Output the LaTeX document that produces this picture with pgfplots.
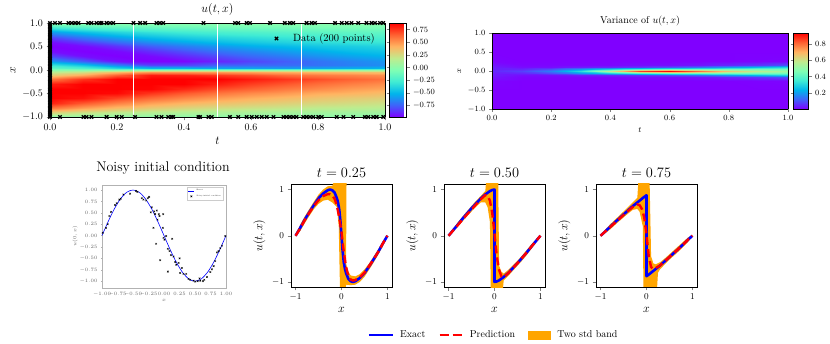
\documentclass[border=0pt]{standalone}
\usepackage{pgfplots}
\pgfplotsset{compat=1.18}
\definecolor{mplorange}{RGB}{255,165,0}
\pgfplotsset{
  colormap={mplrainbow}{rgb=(0.5,0,1) rgb=(0.25,0.383,0.981) rgb=(0,0.707,0.924)
    rgb=(0.25,0.924,0.831) rgb=(0.5,1,0.707) rgb=(0.75,0.924,0.556)
    rgb=(1,0.707,0.383) rgb=(1,0.383,0.195) rgb=(1,0,0)},
  slice/.style={anchor=south west, scale only axis, width=101pt, height=103pt,
    xmin=-1.1, xmax=1.1, ymin=-1.11, ymax=1.12, xtick={-1,0,1}, ytick={-1,0,1},
    tick align=outside, tick pos=left, major tick length=3.5pt,
    tick label style={font=\fontsize{9.5}{11}\selectfont},
    label style={font=\fontsize{12}{14}\selectfont},
    title style={font=\fontsize{14}{16}\selectfont, yshift=-3pt},
    xlabel={$x$}, ylabel={$u(t,x)$}},
  band/.style={fill=mplorange, draw=none, forget plot},
  exact/.style={blue, line width=2.6pt, line join=round, forget plot},
  pred/.style={red, line width=2.4pt, dash pattern=on 8pt off 4pt, forget plot},
}
\begin{document}
\begin{tikzpicture}
\useasboundingbox (0,0) rectangle (830pt,343pt);

% ---------- u(t,x) heat map ----------
\begin{axis}[
  at={(50pt,226pt)}, anchor=south west, scale only axis, width=335pt, height=94pt,
  view={0}{90}, xmin=0, xmax=1, ymin=-1, ymax=1, ztick=\empty,
  colormap name=mplrainbow, point meta min=-0.98, point meta max=0.88,
  xtick={0,0.2,0.4,0.6,0.8,1}, ytick={-1,-0.5,0,0.5,1},
  tick align=outside, tick pos=left, major tick length=3.5pt,
  xticklabel style={/pgf/number format/.cd, fixed, fixed zerofill, precision=1},
  yticklabel style={/pgf/number format/.cd, fixed, fixed zerofill, precision=1},
  tick label style={font=\fontsize{10}{12}\selectfont},
  label style={font=\fontsize{12}{14}\selectfont},
  title={$u(t,x)$}, title style={font=\fontsize{12.5}{14}\selectfont, yshift=-2pt},
  xlabel={$t$}, ylabel={$x$},
  clip=false, axis on top,
  colorbar, colorbar style={at={(parent axis.north east)}, anchor=north west,
    xshift=-4pt, width=17pt, height=94pt,
    ytick={-0.75,-0.5,-0.25,0,0.25,0.5,0.75},
    yticklabel style={font=\fontsize{8}{9}\selectfont,
      /pgf/number format/.cd, fixed, fixed zerofill, precision=2},
    tick align=outside, major tick length=3pt},
  legend style={at={(0.985,0.93)}, anchor=north east, draw=none, fill=none,
    font=\fontsize{10.5}{12}\selectfont},
  legend image code/.code={\draw[#1] plot coordinates {(0pt,0pt)};},
]
\addplot3[surf, shader=interp, forget plot] coordinates {
(0,-1,0) (0,-0.9,0.309) (0,-0.8,0.588) (0,-0.7,0.809) (0,-0.6,0.951) (0,-0.5,1.0) (0,-0.4,0.951) (0,-0.3,0.809) (0,-0.2,0.588) (0,-0.1,0.309) (0,-0.05,0.156) (0,0,0)
(0,0.05,-0.156) (0,0.1,-0.309) (0,0.2,-0.588) (0,0.3,-0.809) (0,0.4,-0.951) (0,0.5,-1.0) (0,0.6,-0.951) (0,0.7,-0.809) (0,0.8,-0.588) (0,0.9,-0.309) (0,1,0)

(0.1,-1,0) (0.1,-0.9,0.24) (0.1,-0.8,0.47) (0.1,-0.7,0.67) (0.1,-0.6,0.84) (0.1,-0.5,0.955) (0.1,-0.4,1.0) (0.1,-0.3,0.946) (0.1,-0.2,0.76) (0.1,-0.1,0.44) (0.1,-0.05,0.227) (0.1,0,0)
(0.1,0.05,-0.227) (0.1,0.1,-0.44) (0.1,0.2,-0.76) (0.1,0.3,-0.946) (0.1,0.4,-1.0) (0.1,0.5,-0.955) (0.1,0.6,-0.84) (0.1,0.7,-0.67) (0.1,0.8,-0.47) (0.1,0.9,-0.24) (0.1,1,0)

(0.2,-1,0) (0.2,-0.9,0.19) (0.2,-0.8,0.38) (0.2,-0.7,0.56) (0.2,-0.6,0.72) (0.2,-0.5,0.86) (0.2,-0.4,0.96) (0.2,-0.3,1.0) (0.2,-0.2,0.94) (0.2,-0.1,0.65) (0.2,-0.05,0.38) (0.2,0,0)
(0.2,0.05,-0.38) (0.2,0.1,-0.65) (0.2,0.2,-0.94) (0.2,0.3,-1.0) (0.2,0.4,-0.96) (0.2,0.5,-0.86) (0.2,0.6,-0.72) (0.2,0.7,-0.56) (0.2,0.8,-0.38) (0.2,0.9,-0.19) (0.2,1,0)

(0.3,-1,0) (0.3,-0.9,0.16) (0.3,-0.8,0.32) (0.3,-0.7,0.47) (0.3,-0.6,0.62) (0.3,-0.5,0.755) (0.3,-0.4,0.87) (0.3,-0.3,0.96) (0.3,-0.2,1.0) (0.3,-0.1,0.82) (0.3,-0.05,0.5) (0.3,0,0.05)
(0.3,0.05,-0.5) (0.3,0.1,-0.82) (0.3,0.2,-1.0) (0.3,0.3,-0.96) (0.3,0.4,-0.87) (0.3,0.5,-0.755) (0.3,0.6,-0.62) (0.3,0.7,-0.47) (0.3,0.8,-0.32) (0.3,0.9,-0.16) (0.3,1,0)

(0.4,-1,0) (0.4,-0.9,0.14) (0.4,-0.8,0.275) (0.4,-0.7,0.41) (0.4,-0.6,0.545) (0.4,-0.5,0.67) (0.4,-0.4,0.785) (0.4,-0.3,0.885) (0.4,-0.2,0.965) (0.4,-0.1,0.8) (0.4,-0.05,0.5) (0.4,0,0.05)
(0.4,0.05,-0.5) (0.4,0.1,-0.82) (0.4,0.2,-0.965) (0.4,0.3,-0.885) (0.4,0.4,-0.785) (0.4,0.5,-0.67) (0.4,0.6,-0.545) (0.4,0.7,-0.41) (0.4,0.8,-0.275) (0.4,0.9,-0.14) (0.4,1,0)

(0.5,-1,0) (0.5,-0.9,0.12) (0.5,-0.8,0.24) (0.5,-0.7,0.365) (0.5,-0.6,0.48) (0.5,-0.5,0.595) (0.5,-0.4,0.70) (0.5,-0.3,0.805) (0.5,-0.2,0.894) (0.5,-0.1,0.75) (0.5,-0.05,0.49) (0.5,0,0.05)
(0.5,0.05,-0.55) (0.5,0.1,-0.74) (0.5,0.2,-0.894) (0.5,0.3,-0.805) (0.5,0.4,-0.70) (0.5,0.5,-0.595) (0.5,0.6,-0.48) (0.5,0.7,-0.365) (0.5,0.8,-0.24) (0.5,0.9,-0.12) (0.5,1,0)

(0.6,-1,0) (0.6,-0.9,0.11) (0.6,-0.8,0.22) (0.6,-0.7,0.33) (0.6,-0.6,0.43) (0.6,-0.5,0.535) (0.6,-0.4,0.64) (0.6,-0.3,0.73) (0.6,-0.2,0.82) (0.6,-0.1,0.7) (0.6,-0.05,0.46) (0.6,0,0.05)
(0.6,0.05,-0.56) (0.6,0.1,-0.73) (0.6,0.2,-0.82) (0.6,0.3,-0.73) (0.6,0.4,-0.64) (0.6,0.5,-0.535) (0.6,0.6,-0.43) (0.6,0.7,-0.33) (0.6,0.8,-0.22) (0.6,0.9,-0.11) (0.6,1,0)

(0.7,-1,0) (0.7,-0.9,0.10) (0.7,-0.8,0.20) (0.7,-0.7,0.30) (0.7,-0.6,0.39) (0.7,-0.5,0.49) (0.7,-0.4,0.58) (0.7,-0.3,0.67) (0.7,-0.2,0.76) (0.7,-0.1,0.62) (0.7,-0.05,0.43) (0.7,0,0.05)
(0.7,0.05,-0.58) (0.7,0.1,-0.72) (0.7,0.2,-0.76) (0.7,0.3,-0.67) (0.7,0.4,-0.58) (0.7,0.5,-0.49) (0.7,0.6,-0.39) (0.7,0.7,-0.30) (0.7,0.8,-0.20) (0.7,0.9,-0.10) (0.7,1,0)

(0.8,-1,0) (0.8,-0.9,0.085) (0.8,-0.8,0.175) (0.8,-0.7,0.27) (0.8,-0.6,0.35) (0.8,-0.5,0.44) (0.8,-0.4,0.53) (0.8,-0.3,0.61) (0.8,-0.2,0.70) (0.8,-0.1,0.58) (0.8,-0.05,0.4) (0.8,0,0.05)
(0.8,0.05,-0.56) (0.8,0.1,-0.70) (0.8,0.2,-0.70) (0.8,0.3,-0.61) (0.8,0.4,-0.53) (0.8,0.5,-0.44) (0.8,0.6,-0.35) (0.8,0.7,-0.27) (0.8,0.8,-0.175) (0.8,0.9,-0.085) (0.8,1,0)

(0.9,-1,0) (0.9,-0.9,0.08) (0.9,-0.8,0.165) (0.9,-0.7,0.25) (0.9,-0.6,0.32) (0.9,-0.5,0.415) (0.9,-0.4,0.48) (0.9,-0.3,0.56) (0.9,-0.2,0.645) (0.9,-0.1,0.55) (0.9,-0.05,0.38) (0.9,0,0.05)
(0.9,0.05,-0.53) (0.9,0.1,-0.66) (0.9,0.2,-0.645) (0.9,0.3,-0.56) (0.9,0.4,-0.48) (0.9,0.5,-0.415) (0.9,0.6,-0.32) (0.9,0.7,-0.25) (0.9,0.8,-0.165) (0.9,0.9,-0.08) (0.9,1,0)

(1,-1,0) (1,-0.9,0.078) (1,-0.8,0.155) (1,-0.7,0.227) (1,-0.6,0.30) (1,-0.5,0.38) (1,-0.4,0.45) (1,-0.3,0.52) (1,-0.2,0.60) (1,-0.1,0.52) (1,-0.05,0.36) (1,0,0.05)
(1,0.05,-0.5) (1,0.1,-0.62) (1,0.2,-0.60) (1,0.3,-0.52) (1,0.4,-0.45) (1,0.5,-0.38) (1,0.6,-0.30) (1,0.7,-0.227) (1,0.8,-0.155) (1,0.9,-0.078) (1,1,0)
};
\addplot3[white, line width=1pt, forget plot] coordinates {(0.25,-1,2) (0.25,1,2)};
\addplot3[white, line width=1pt, forget plot] coordinates {(0.5,-1,2) (0.5,1,2)};
\addplot3[white, line width=1pt, forget plot] coordinates {(0.75,-1,2) (0.75,1,2)};
\addplot3[only marks, mark=x, mark size=2.4pt, black, line width=1.3pt] coordinates {
(0,-0.98,2) (0,-0.95,2) (0,-0.93,2) (0,-0.9,2) (0,-0.86,2) (0,-0.83,2) (0,-0.8,2) (0,-0.77,2)
(0,-0.74,2) (0,-0.7,2) (0,-0.67,2) (0,-0.64,2) (0,-0.61,2) (0,-0.57,2) (0,-0.54,2) (0,-0.5,2)
(0,-0.47,2) (0,-0.44,2) (0,-0.41,2) (0,-0.37,2) (0,-0.34,2) (0,-0.31,2) (0,-0.27,2) (0,-0.24,2)
(0,-0.2,2) (0,-0.17,2) (0,-0.14,2) (0,-0.11,2) (0,-0.07,2) (0,-0.04,2) (0,-0.01,2) (0,0.02,2)
(0,0.06,2) (0,0.09,2) (0,0.12,2) (0,0.15,2) (0,0.19,2) (0,0.22,2) (0,0.25,2) (0,0.29,2)
(0,0.32,2) (0,0.35,2) (0,0.39,2) (0,0.42,2) (0,0.45,2) (0,0.48,2) (0,0.52,2) (0,0.55,2)
(0,0.58,2) (0,0.62,2) (0,0.65,2) (0,0.68,2) (0,0.71,2) (0,0.75,2) (0,0.78,2) (0,0.81,2)
(0,0.85,2) (0,0.88,2) (0,0.91,2) (0,0.94,2) (0,0.97,2)
(0,1,2) (0.015,1,2) (0.03,1,2) (0.055,1,2) (0.065,1,2) (0.075,1,2) (0.085,1,2) (0.114,1,2)
(0.124,1,2) (0.139,1,2) (0.149,1,2) (0.154,1,2) (0.169,1,2) (0.179,1,2) (0.189,1,2) (0.249,1,2)
(0.269,1,2) (0.284,1,2) (0.318,1,2) (0.328,1,2) (0.338,1,2) (0.458,1,2) (0.552,1,2) (0.562,1,2)
(0.587,1,2) (0.597,1,2) (0.657,1,2) (0.701,1,2) (0.716,1,2) (0.726,1,2) (0.766,1,2) (0.781,1,2)
(0.791,1,2) (0.851,1,2) (0.871,1,2) (0.886,1,2) (0.9,1,2) (0.92,1,2) (0.945,1,2) (0.96,1,2)
(0.97,1,2) (0.985,1,2) (0.995,1,2)
(0,-1,2) (0.03,-1,2) (0.1,-1,2) (0.109,-1,2) (0.124,-1,2) (0.169,-1,2) (0.199,-1,2) (0.214,-1,2)
(0.254,-1,2) (0.318,-1,2) (0.333,-1,2) (0.353,-1,2) (0.363,-1,2) (0.368,-1,2) (0.443,-1,2) (0.448,-1,2)
(0.473,-1,2) (0.483,-1,2) (0.537,-1,2) (0.562,-1,2) (0.587,-1,2) (0.602,-1,2) (0.617,-1,2) (0.632,-1,2)
(0.647,-1,2) (0.667,-1,2) (0.697,-1,2) (0.706,-1,2) (0.716,-1,2) (0.726,-1,2) (0.736,-1,2) (0.756,-1,2)
(0.766,-1,2) (0.776,-1,2) (0.786,-1,2) (0.801,-1,2) (0.811,-1,2) (0.856,-1,2) (0.876,-1,2) (0.905,-1,2)
(0.94,-1,2) (0.95,-1,2) (0.965,-1,2) (0.975,-1,2) (0.995,-1,2)
};
\addlegendentry{\hspace*{13pt}Data (200 points)}
\end{axis}

% ---------- variance heat map ----------
\begin{axis}[
  at={(492pt,234pt)}, anchor=south west, scale only axis, width=296pt, height=76pt,
  view={0}{90}, xmin=0, xmax=1, ymin=-1, ymax=1, ztick=\empty,
  colormap name=mplrainbow, point meta min=0.005, point meta max=0.93,
  xtick={0,0.2,0.4,0.6,0.8,1}, ytick={-1,-0.5,0,0.5,1},
  tick align=outside, tick pos=left, major tick length=3pt,
  xticklabel style={/pgf/number format/.cd, fixed, fixed zerofill, precision=1},
  yticklabel style={/pgf/number format/.cd, fixed, fixed zerofill, precision=1},
  tick label style={font=\fontsize{8}{9}\selectfont},
  label style={font=\fontsize{8.5}{10}\selectfont},
  title={Variance of $u(t,x)$}, title style={font=\fontsize{10}{12}\selectfont, yshift=-3pt},
  xlabel={$t$}, ylabel={$x$},
  axis on top,
  colorbar, colorbar style={at={(parent axis.north east)}, anchor=north west,
    xshift=-3pt, width=15pt, height=76pt,
    ytick={0.2,0.4,0.6,0.8},
    yticklabel style={font=\fontsize{8}{9}\selectfont,
      /pgf/number format/.cd, fixed, fixed zerofill, precision=1},
    tick align=outside, major tick length=3pt},
]
\addplot3[surf, shader=interp] coordinates {
(0,-1,0.005) (0,-0.5,0.005) (0,-0.25,0.01) (0,-0.15,0.03) (0,-0.1,0.04) (0,-0.05,0.04) (0,0,0.05) (0,0.05,0.04) (0,0.1,0.04) (0,0.15,0.03) (0,0.25,0.01) (0,0.5,0.005) (0,1,0.005)

(0.1,-1,0.005) (0.1,-0.5,0.005) (0.1,-0.25,0.005) (0.1,-0.15,0.01) (0.1,-0.1,0.02) (0.1,-0.05,0.05) (0.1,0,0.08) (0.1,0.05,0.05) (0.1,0.1,0.02) (0.1,0.15,0.01) (0.1,0.25,0.005) (0.1,0.5,0.005) (0.1,1,0.005)

(0.2,-1,0.005) (0.2,-0.5,0.005) (0.2,-0.25,0.005) (0.2,-0.15,0.01) (0.2,-0.1,0.02) (0.2,-0.05,0.1) (0.2,0,0.16) (0.2,0.05,0.1) (0.2,0.1,0.02) (0.2,0.15,0.01) (0.2,0.25,0.005) (0.2,0.5,0.005) (0.2,1,0.005)

(0.3,-1,0.005) (0.3,-0.5,0.005) (0.3,-0.25,0.005) (0.3,-0.15,0.01) (0.3,-0.1,0.04) (0.3,-0.05,0.2) (0.3,0,0.32) (0.3,0.05,0.2) (0.3,0.1,0.04) (0.3,0.15,0.01) (0.3,0.25,0.005) (0.3,0.5,0.005) (0.3,1,0.005)

(0.4,-1,0.005) (0.4,-0.5,0.005) (0.4,-0.25,0.005) (0.4,-0.15,0.01) (0.4,-0.1,0.05) (0.4,-0.05,0.3) (0.4,0,0.58) (0.4,0.05,0.3) (0.4,0.1,0.05) (0.4,0.15,0.01) (0.4,0.25,0.005) (0.4,0.5,0.005) (0.4,1,0.005)

(0.5,-1,0.005) (0.5,-0.5,0.005) (0.5,-0.25,0.005) (0.5,-0.15,0.02) (0.5,-0.1,0.07) (0.5,-0.05,0.4) (0.5,0,0.86) (0.5,0.05,0.4) (0.5,0.1,0.07) (0.5,0.15,0.02) (0.5,0.25,0.005) (0.5,0.5,0.005) (0.5,1,0.005)

(0.6,-1,0.005) (0.6,-0.5,0.005) (0.6,-0.25,0.005) (0.6,-0.15,0.02) (0.6,-0.1,0.1) (0.6,-0.05,0.45) (0.6,0,0.93) (0.6,0.05,0.45) (0.6,0.1,0.1) (0.6,0.15,0.02) (0.6,0.25,0.005) (0.6,0.5,0.005) (0.6,1,0.005)

(0.7,-1,0.005) (0.7,-0.5,0.005) (0.7,-0.25,0.005) (0.7,-0.15,0.03) (0.7,-0.1,0.14) (0.7,-0.05,0.45) (0.7,0,0.8) (0.7,0.05,0.45) (0.7,0.1,0.14) (0.7,0.15,0.03) (0.7,0.25,0.005) (0.7,0.5,0.005) (0.7,1,0.005)

(0.8,-1,0.005) (0.8,-0.5,0.005) (0.8,-0.25,0.005) (0.8,-0.15,0.05) (0.8,-0.1,0.2) (0.8,-0.05,0.45) (0.8,0,0.66) (0.8,0.05,0.45) (0.8,0.1,0.2) (0.8,0.15,0.05) (0.8,0.25,0.005) (0.8,0.5,0.005) (0.8,1,0.005)

(0.9,-1,0.005) (0.9,-0.5,0.005) (0.9,-0.25,0.008) (0.9,-0.15,0.07) (0.9,-0.1,0.25) (0.9,-0.05,0.45) (0.9,0,0.58) (0.9,0.05,0.45) (0.9,0.1,0.25) (0.9,0.15,0.07) (0.9,0.25,0.008) (0.9,0.5,0.005) (0.9,1,0.005)

(1,-1,0.005) (1,-0.5,0.005) (1,-0.25,0.01) (1,-0.15,0.1) (1,-0.1,0.3) (1,-0.05,0.45) (1,0,0.52) (1,0.05,0.45) (1,0.1,0.3) (1,0.15,0.1) (1,0.25,0.01) (1,0.5,0.005) (1,1,0.005)
};
\end{axis}

% ---------- noisy initial condition (inset) ----------
\node[font=\fontsize{14}{16}\selectfont] at (163pt,175pt) {Noisy initial condition};
\begin{axis}[
  at={(102pt,55pt)}, anchor=south west, scale only axis, width=124pt, height=103pt,
  xmin=-1, xmax=1, ymin=-1.15, ymax=1.11,
  xtick={-1,-0.75,-0.5,-0.25,0,0.25,0.5,0.75,1},
  ytick={-1,-0.75,-0.5,-0.25,0,0.25,0.5,0.75,1},
  tick label style={font=\fontsize{1.7}{2}\selectfont, text=black!60, /pgf/number format/.cd, fixed, fixed zerofill, precision=2},
  tick align=outside, tick pos=left, major tick length=1pt,
  axis line style={gray!60, line width=0.3pt}, tick style={gray!60, line width=0.3pt},
  xlabel={$x$}, ylabel={$u(0,x)$}, label style={font=\fontsize{2}{2.5}\selectfont, text=black!60},
  xlabel style={yshift=4.5pt}, ylabel style={yshift=-5pt},
  legend style={at={(0.98,0.98)}, anchor=north east, font=\fontsize{1.8}{2.2}\selectfont,
    draw=gray!40, line width=0.2pt, inner sep=0.6pt, row sep=-1.5pt, legend cell align=left},
  legend image code/.code={\draw[mark repeat=2,mark phase=2,#1] plot coordinates {(0pt,0pt) (3pt,0pt) (6pt,0pt)};},
]
\addplot[blue, line width=0.6pt, smooth] coordinates {
(-1,0) (-0.9,0.309) (-0.8,0.588) (-0.7,0.809) (-0.6,0.951) (-0.5,1) (-0.4,0.951) (-0.3,0.809)
(-0.2,0.588) (-0.1,0.309) (0,0) (0.1,-0.309) (0.2,-0.588) (0.3,-0.809) (0.4,-0.951) (0.5,-1)
(0.6,-0.951) (0.7,-0.809) (0.8,-0.588) (0.9,-0.309) (1,0)};
\addlegendentry{Exact}
\addplot[only marks, mark=x, mark size=1.1pt, black, line width=0.45pt] coordinates {
(-0.989,0.06) (-0.935,0.17) (-0.908,0.25) (-0.881,0.43) (-0.854,0.52) (-0.79,0.67) (-0.763,0.71)
(-0.72,0.79) (-0.698,0.81) (-0.655,0.9) (-0.547,0.92) (-0.45,0.98) (-0.429,0.96) (-0.358,0.82)
(-0.332,0.79) (-0.288,0.77) (-0.261,0.82) (-0.24,0.85) (-0.213,0.51) (-0.197,0.62) (-0.159,0.53)
(-0.143,0.47) (-0.116,0.55) (-0.105,0.35) (-0.073,0.43) (-0.084,0.47) (-0.013,0.47) (-0.17,0.17)
(-0.019,0.17) (-0.008,-0.05) (0.008,-0.09) (0.035,-0.01) (0.062,-0.29) (0.089,-0.34) (-0.127,-0.18)
(0.132,-0.07) (-0.062,-0.54) (0.111,-0.43) (0.062,-0.79) (0.154,-0.46) (0.181,-0.58) (0.197,-0.64)
(0.235,-0.6) (0.251,-0.5) (0.261,-0.82) (0.288,-0.71) (0.315,-0.84) (0.358,-0.84) (0.396,-0.95)
(0.423,-0.97) (0.477,-0.99) (0.504,-1.01) (0.542,-1.0) (0.574,-0.94) (0.585,-0.99) (0.628,-1.0)
(0.65,-0.97) (0.693,-0.91) (0.747,-0.8) (0.774,-0.74) (0.801,-0.67) (0.827,-0.56) (0.854,-0.37)
(0.881,-0.34) (0.908,-0.28) (0.935,-0.22) (0.989,-0.01)};
\addlegendentry{Noisy initial condition}
\end{axis}

% ---------- t = 0.25 ----------
\begin{axis}[slice, at={(291pt,56pt)}, title={$t = 0.25$}]
\addplot[band] coordinates {
(-1,0.02) (-0.9,0.24) (-0.8,0.42) (-0.7,0.58) (-0.6,0.74) (-0.5,0.89) (-0.4,1.0) (-0.3,1.07)
(-0.2,1.08) (-0.12,1.3) (0.11,1.3) (0.1,-0.6) (0.15,-0.78) (0.2,-0.86) (0.3,-0.88) (0.4,-0.83)
(0.5,-0.73) (0.6,-0.6) (0.7,-0.45) (0.8,-0.29) (0.9,-0.12) (1,0.02)
(1,-0.02) (0.9,-0.23) (0.8,-0.41) (0.7,-0.58) (0.6,-0.74) (0.5,-0.89) (0.4,-1.0) (0.3,-1.06)
(0.2,-1.07) (0.1,-1.06) (0.08,-1.3) (-0.03,-1.3) (-0.06,0.2) (-0.1,0.62) (-0.2,0.72) (-0.3,0.78)
(-0.4,0.76) (-0.5,0.69) (-0.6,0.58) (-0.7,0.43) (-0.8,0.27) (-0.9,0.1) (-1,-0.02)} -- cycle;
\addplot[exact] coordinates {
(-1,0) (-0.9,0.17) (-0.8,0.35) (-0.7,0.51) (-0.6,0.665) (-0.5,0.81) (-0.4,0.915) (-0.3,0.985)
(-0.25,1.0) (-0.2,0.985) (-0.15,0.934) (-0.1,0.81) (-0.075,0.715) (-0.05,0.575) (-0.025,0.333) (0,0)
(0.025,-0.333) (0.05,-0.575) (0.075,-0.715) (0.1,-0.81) (0.15,-0.934) (0.2,-0.985) (0.25,-1.0)
(0.3,-0.985) (0.4,-0.915) (0.5,-0.81) (0.6,-0.665) (0.7,-0.51) (0.8,-0.35) (0.9,-0.17) (1,0)};
\addplot[pred] coordinates {
(-1,0) (-0.9,0.16) (-0.8,0.34) (-0.7,0.5) (-0.6,0.65) (-0.5,0.77) (-0.4,0.86) (-0.3,0.9)
(-0.25,0.9) (-0.2,0.87) (-0.15,0.8) (-0.1,0.65) (-0.05,0.4) (0,0.08) (0.05,-0.35) (0.1,-0.68)
(0.15,-0.87) (0.2,-0.95) (0.25,-0.97) (0.3,-0.96) (0.4,-0.9) (0.5,-0.8) (0.6,-0.66) (0.7,-0.51)
(0.8,-0.35) (0.9,-0.17) (1,0)};
\end{axis}

% ---------- t = 0.50 ----------
\begin{axis}[slice, at={(444pt,56pt)}, title={$t = 0.50$},
  legend style={at={(0.49,-0.466)}, anchor=center, draw=none, legend columns=3,
    font=\fontsize{10}{12}\selectfont},
]
\addlegendimage{legend image code/.code={\draw[blue, line width=2.6pt] (0pt,0pt) -- (24pt,0pt);}}
\addlegendentry{\hspace*{4pt}Exact\hspace*{11pt}}
\addlegendimage{legend image code/.code={\draw[red, line width=2.4pt, dash pattern=on 9pt off 4pt] (0pt,0pt) -- (23pt,0pt);}}
\addlegendentry{\hspace*{4pt}Prediction\hspace*{11pt}}
\addlegendimage{legend image code/.code={\fill[mplorange] (0pt,-4pt) rectangle (22pt,4pt);}}
\addlegendentry{\hspace*{5pt}Two std band}
\addplot[band] coordinates {
(-1,0.02) (-0.8,0.29) (-0.6,0.53) (-0.4,0.76) (-0.3,0.86) (-0.2,0.97) (-0.17,1.3) (0.08,1.3)
(0.1,-0.65) (0.15,-0.78) (0.2,-0.82) (0.3,-0.74) (0.4,-0.64) (0.5,-0.54) (0.6,-0.43) (0.7,-0.31)
(0.8,-0.19) (0.9,-0.08) (1,0.02)
(1,-0.02) (0.9,-0.16) (0.8,-0.29) (0.7,-0.42) (0.6,-0.54) (0.5,-0.65) (0.4,-0.76) (0.3,-0.87)
(0.2,-0.97) (0.17,-1.3) (-0.08,-1.3) (-0.1,0.3) (-0.15,0.62) (-0.2,0.72) (-0.3,0.72) (-0.4,0.63)
(-0.6,0.42) (-0.8,0.19) (-1,-0.02)} -- cycle;
\addplot[exact] coordinates {
(-1,0) (-0.9,0.12) (-0.8,0.24) (-0.7,0.365) (-0.6,0.48) (-0.5,0.595) (-0.4,0.70) (-0.3,0.805)
(-0.2,0.894) (-0.1,0.966) (-0.05,0.99) (0,1.0) (0,-1.0) (0.05,-0.99) (0.1,-0.966) (0.2,-0.894)
(0.3,-0.805) (0.4,-0.70) (0.5,-0.595) (0.6,-0.48) (0.7,-0.365) (0.8,-0.24) (0.9,-0.12) (1,0)};
\addplot[pred] coordinates {
(-1,0) (-0.8,0.23) (-0.6,0.46) (-0.4,0.68) (-0.3,0.79) (-0.2,0.88) (-0.15,0.87) (-0.1,0.76)
(-0.05,0.5) (0,0.05) (0.05,-0.45) (0.1,-0.74) (0.15,-0.88) (0.2,-0.9) (0.3,-0.81) (0.4,-0.7)
(0.5,-0.595) (0.6,-0.48) (0.7,-0.365) (0.8,-0.24) (0.9,-0.12) (1,0)};
\end{axis}

% ---------- t = 0.75 ----------
\begin{axis}[slice, at={(596pt,56pt)}, title={$t = 0.75$}]
\addplot[band] coordinates {
(-1,0.02) (-0.8,0.24) (-0.6,0.43) (-0.4,0.62) (-0.3,0.72) (-0.2,0.82) (-0.17,1.3) (0.065,1.3)
(0.1,-0.45) (0.15,-0.6) (0.2,-0.62) (0.3,-0.57) (0.4,-0.49) (0.5,-0.4) (0.6,-0.31) (0.7,-0.22)
(0.8,-0.13) (0.9,-0.04) (1,0.02)
(1,-0.02) (0.9,-0.14) (0.8,-0.24) (0.7,-0.34) (0.6,-0.43) (0.5,-0.52) (0.4,-0.62) (0.3,-0.72)
(0.25,-0.8) (0.22,-1.3) (-0.065,-1.3) (-0.08,0.2) (-0.15,0.52) (-0.2,0.58) (-0.3,0.56) (-0.4,0.48)
(-0.6,0.31) (-0.8,0.13) (-1,-0.02)} -- cycle;
\addplot[exact] coordinates {
(-1,0) (-0.9,0.09) (-0.8,0.187) (-0.7,0.28) (-0.6,0.37) (-0.5,0.46) (-0.4,0.55) (-0.3,0.64)
(-0.2,0.72) (-0.1,0.8) (-0.05,0.84) (0,0.876) (0,-0.876) (0.05,-0.84) (0.1,-0.8) (0.2,-0.72)
(0.3,-0.64) (0.4,-0.55) (0.5,-0.46) (0.6,-0.37) (0.7,-0.28) (0.8,-0.187) (0.9,-0.09) (1,0)};
\addplot[pred] coordinates {
(-1,0) (-0.8,0.18) (-0.6,0.36) (-0.4,0.54) (-0.3,0.62) (-0.2,0.68) (-0.15,0.66) (-0.1,0.58)
(-0.05,0.4) (0,0.02) (0.05,-0.45) (0.1,-0.68) (0.15,-0.72) (0.2,-0.7) (0.3,-0.64) (0.4,-0.55)
(0.5,-0.46) (0.6,-0.37) (0.7,-0.28) (0.8,-0.187) (0.9,-0.09) (1,0)};
\end{axis}
\end{tikzpicture}
\end{document}
